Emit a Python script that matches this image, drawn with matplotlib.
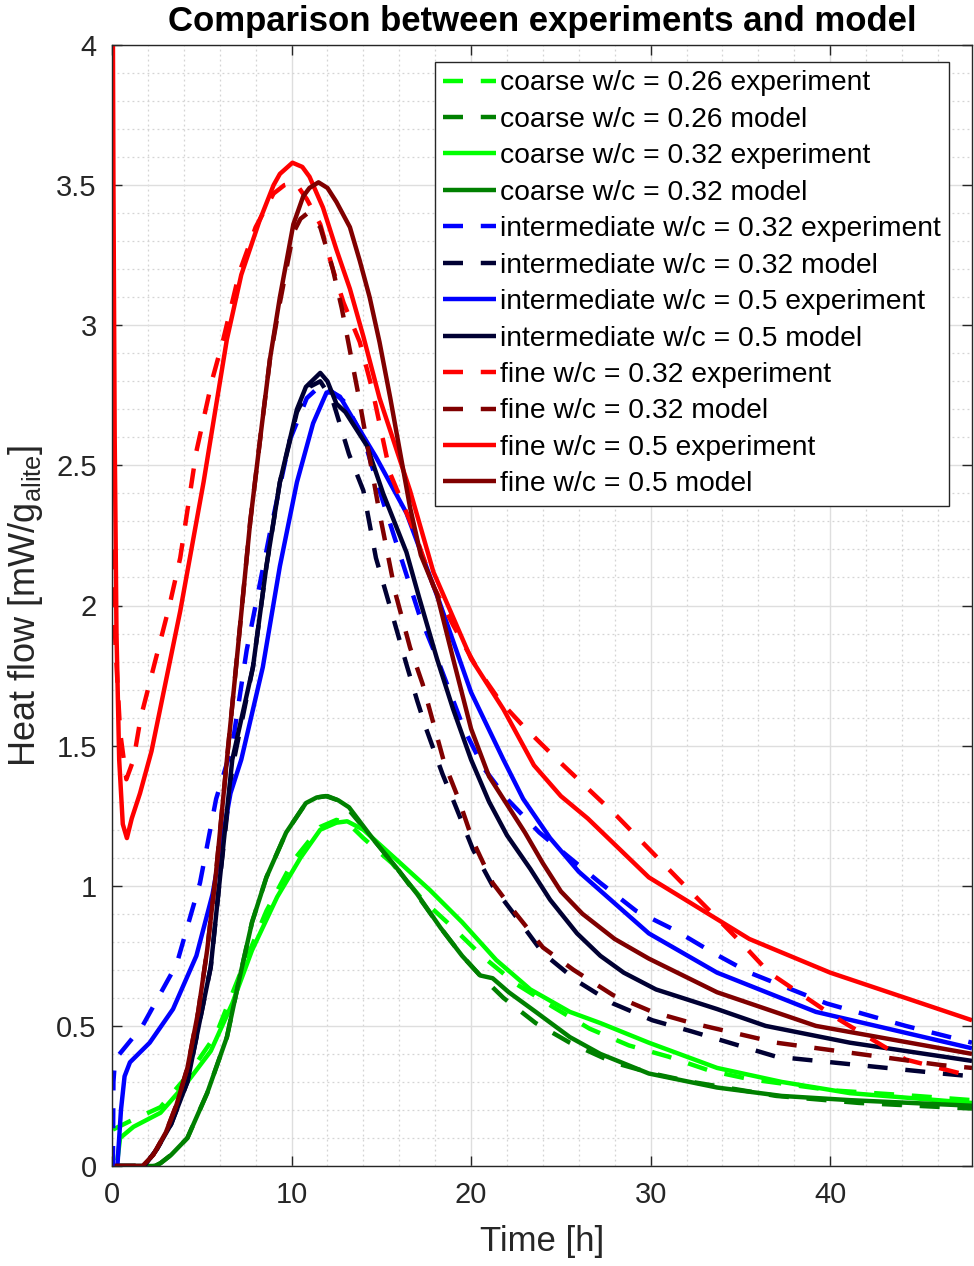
import matplotlib
matplotlib.use("Agg")
import matplotlib.pyplot as plt
from matplotlib.ticker import MultipleLocator

plt.rcParams['font.family'] = ['Liberation Sans', 'DejaVu Sans']
plt.rcParams['mathtext.default'] = 'regular'

# ---- measured heat-flow curves: time [h] and heat flow [mW/g_alite] ----
coarse_026_exp_t = [0.05, 1.0, 2.7, 4.3, 5.8, 7.1, 8.6, 10.1, 11.6, 12.5, 13.2, 14.0, 15.6, 17.3,
                    19.0, 20.6, 22.5, 24.5, 26.6, 28.8, 31.0, 33.3, 35.5, 40.1, 44.8, 47.9]
coarse_026_exp_q = [0.13, 0.16, 0.21, 0.33, 0.47, 0.68, 0.91, 1.09, 1.21, 1.235, 1.22, 1.17, 1.08, 0.95,
                    0.85, 0.75, 0.65, 0.57, 0.49, 0.43, 0.39, 0.34, 0.31, 0.27, 0.25, 0.235]

coarse_026_mod_t = [0.2, 2.4, 2.7, 3.3, 4.2, 5.3, 6.4, 7.1, 7.8, 8.6, 9.7, 10.8, 11.4, 11.9, 12.6,
                    13.2, 14.5, 15.9, 17.3, 18.3, 19.5, 20.5, 21.0, 21.8, 23.6, 25.5, 27.9, 30.1,
                    32.3, 37.0, 41.6, 47.9]
coarse_026_mod_q = [0.0, 0.0, 0.01, 0.04, 0.10, 0.26, 0.46, 0.67, 0.87, 1.03, 1.19, 1.295, 1.315, 1.32,
                    1.305, 1.27, 1.17, 1.06, 0.94, 0.85, 0.75, 0.68, 0.65, 0.60, 0.51, 0.44, 0.37,
                    0.33, 0.30, 0.25, 0.225, 0.205]

coarse_032_exp_t = [0.3, 0.45, 1.2, 2.7, 4.2, 5.5, 6.7, 7.8, 9.2, 10.5, 11.6, 12.5, 13.1, 14.0,
                    15.9, 17.7, 19.5, 21.4, 23.3, 25.5, 27.2, 29.9, 33.7, 37.3, 41.1, 47.9]
coarse_032_exp_q = [0.02, 0.10, 0.14, 0.19, 0.30, 0.41, 0.58, 0.77, 0.96, 1.10, 1.20, 1.225, 1.23, 1.20,
                    1.09, 0.985, 0.87, 0.735, 0.63, 0.55, 0.51, 0.44, 0.35, 0.30, 0.26, 0.225]

coarse_032_mod_t = [0.2, 2.4, 2.7, 3.3, 4.2, 5.3, 6.4, 7.1, 7.8, 8.6, 9.7, 10.8, 11.4, 12.0, 12.6,
                    13.2, 14.5, 15.9, 17.0, 18.3, 19.5, 20.5, 21.2, 22.1, 23.6, 25.5, 27.2, 29.9,
                    33.7, 37.3, 41.1, 47.9]
coarse_032_mod_q = [0.0, 0.0, 0.01, 0.04, 0.10, 0.26, 0.46, 0.67, 0.87, 1.03, 1.19, 1.295, 1.315, 1.32,
                    1.305, 1.28, 1.17, 1.06, 0.97, 0.85, 0.75, 0.68, 0.67, 0.62, 0.55, 0.46, 0.40,
                    0.33, 0.28, 0.25, 0.235, 0.215]

inter_032_exp_t = [0.05, 0.08, 0.17, 1.7, 3.6, 4.9, 5.8, 6.7, 7.5, 8.8, 9.9, 10.85, 11.7, 12.9, 14.0,
                   14.7, 15.8, 17.1, 18.3, 19.6, 20.7, 22.0, 23.8, 25.3, 27.2, 29.2, 31.4, 33.5,
                   35.5, 39.8, 44.2, 47.9]
inter_032_exp_q = [0.0, 0.30, 0.38, 0.50, 0.72, 1.01, 1.31, 1.50, 1.84, 2.26, 2.59, 2.74, 2.79, 2.73,
                   2.60, 2.45, 2.23, 1.97, 1.78, 1.56, 1.42, 1.31, 1.19, 1.11, 1.01, 0.91, 0.84,
                   0.76, 0.69, 0.58, 0.50, 0.44]

inter_032_mod_t = [0.2, 1.8, 2.5, 3.3, 4.2, 5.5, 6.0, 6.7, 7.85, 8.6, 9.35, 10.3, 11.0, 11.6, 12.3,
                   13.2, 14.0, 14.7, 15.6, 16.4, 17.0, 17.5, 18.4, 19.1, 20.1, 21.2, 22.5, 24.0,
                   25.9, 27.9, 30.1, 32.3, 37.0, 41.6, 46.2, 47.9]
inter_032_mod_q = [0.0, 0.0, 0.06, 0.15, 0.30, 0.71, 1.02, 1.42, 1.78, 2.14, 2.44, 2.69, 2.78, 2.80,
                   2.73, 2.54, 2.41, 2.17, 1.97, 1.79, 1.66, 1.56, 1.40, 1.29, 1.13, 1.00, 0.89,
                   0.76, 0.66, 0.58, 0.52, 0.48, 0.39, 0.36, 0.33, 0.32]

inter_05_exp_t = [0.3, 0.5, 0.7, 1.0, 2.1, 3.4, 4.7, 5.6, 6.6, 7.2, 8.4, 9.35, 10.3, 11.2, 11.95,
                  12.3, 12.7, 13.2, 14.7, 16.4, 18.25, 20.0, 21.8, 22.9, 24.4, 26.0, 29.9, 33.7,
                  39.2, 47.9]
inter_05_exp_q = [0.0, 0.20, 0.32, 0.37, 0.44, 0.56, 0.75, 0.97, 1.33, 1.45, 1.78, 2.14, 2.44, 2.65,
                  2.76, 2.76, 2.745, 2.69, 2.53, 2.33, 2.01, 1.69, 1.45, 1.31, 1.17, 1.05, 0.83,
                  0.69, 0.55, 0.42]

inter_05_mod_t = [0.2, 1.8, 2.5, 3.3, 4.2, 5.5, 6.0, 6.7, 7.85, 8.6, 9.35, 10.3, 10.8, 11.6, 12.0,
                  12.5, 13.0, 14.2, 15.1, 16.4, 17.1, 18.1, 19.0, 20.0, 21.0, 22.0, 23.3, 24.4,
                  25.9, 27.2, 28.5, 30.3, 33.7, 36.4, 41.1, 47.9]
inter_05_mod_q = [0.0, 0.0, 0.06, 0.15, 0.30, 0.71, 1.02, 1.45, 1.78, 2.14, 2.44, 2.70, 2.78, 2.83,
                  2.80, 2.72, 2.69, 2.57, 2.40, 2.19, 2.03, 1.81, 1.63, 1.45, 1.30, 1.18, 1.06,
                  0.95, 0.83, 0.75, 0.69, 0.63, 0.56, 0.50, 0.44, 0.375]

fine_032_exp_t = [0.0, 0.2, 0.45, 0.8, 1.2, 1.6, 2.4, 3.2, 3.8, 4.7, 5.6, 6.2, 7.1, 8.0, 9.0, 9.6,
                  10.2, 10.85, 11.6, 12.3, 12.9, 13.8, 14.5, 15.5, 16.8, 17.9, 19.0, 20.3, 21.6,
                  22.9, 24.8, 28.1, 31.6, 33.3, 35.0, 36.6, 40.3, 44.2, 47.9]
fine_032_exp_q = [2.2, 1.85, 1.55, 1.38, 1.45, 1.60, 1.80, 2.0, 2.17, 2.55, 2.81, 2.95, 3.19, 3.35,
                  3.47, 3.50, 3.51, 3.45, 3.36, 3.20, 3.08, 2.94, 2.77, 2.47, 2.27, 2.07, 1.93,
                  1.78, 1.66, 1.57, 1.45, 1.25, 1.02, 0.91, 0.80, 0.69, 0.53, 0.38, 0.32]

fine_032_mod_t = [0.2, 1.7, 2.3, 3.0, 3.6, 4.2, 4.8, 5.3, 5.8, 6.4, 7.0, 7.7, 8.3, 8.8, 9.35, 10.1,
                  10.5, 10.9, 11.6, 12.3, 12.8, 13.25, 13.7, 14.9, 15.8, 16.6, 17.3, 17.9, 18.5,
                  19.3, 20.1, 21.2, 22.5, 24.0, 25.7, 27.9, 30.1, 32.3, 37.0, 41.6, 46.2, 47.9]
fine_032_mod_q = [0.0, 0.0, 0.04, 0.12, 0.22, 0.35, 0.55, 0.77, 1.05, 1.45, 1.84, 2.30, 2.62, 2.88,
                  3.08, 3.33, 3.38, 3.40, 3.35, 3.20, 3.06, 2.91, 2.76, 2.33, 2.04, 1.85, 1.72,
                  1.58, 1.44, 1.31, 1.16, 1.01, 0.90, 0.78, 0.70, 0.61, 0.55, 0.51, 0.44, 0.40,
                  0.36, 0.35]

fine_05_exp_t = [0.02, 0.08, 0.15, 0.25, 0.4, 0.6, 0.83, 1.1, 1.56, 2.2, 3.0, 3.8, 5.1, 6.4, 7.2,
                 8.2, 9.0, 9.35, 10.05, 10.6, 11.0, 11.75, 12.5, 13.25, 14.0, 14.9, 16.6, 17.9,
                 20.0, 21.8, 23.5, 25.0, 26.5, 29.9, 35.5, 40.0, 47.9]
fine_05_exp_q = [4.6, 3.5, 2.6, 1.9, 1.45, 1.22, 1.17, 1.24, 1.33, 1.48, 1.73, 1.98, 2.44, 2.95, 3.18,
                 3.37, 3.50, 3.54, 3.58, 3.565, 3.53, 3.42, 3.27, 3.13, 2.96, 2.74, 2.41, 2.12,
                 1.81, 1.63, 1.43, 1.32, 1.24, 1.03, 0.81, 0.69, 0.52]

fine_05_mod_t = [0.15, 1.7, 2.3, 3.0, 3.6, 4.2, 4.8, 5.3, 5.8, 6.4, 7.0, 7.7, 8.3, 8.8, 9.35, 10.1,
                 10.65, 11.0, 11.5, 12.0, 12.5, 13.25, 13.8, 14.35, 14.9, 15.5, 16.6, 17.2, 18.1,
                 19.0, 20.0, 21.0, 22.0, 23.0, 24.0, 25.0, 26.2, 28.0, 29.9, 33.7, 39.2, 47.9]
fine_05_mod_q = [0.0, 0.0, 0.04, 0.12, 0.22, 0.35, 0.55, 0.77, 1.05, 1.45, 1.84, 2.30, 2.62, 2.88,
                 3.10, 3.36, 3.46, 3.49, 3.51, 3.49, 3.44, 3.35, 3.23, 3.10, 2.94, 2.74, 2.35,
                 2.18, 2.04, 1.81, 1.56, 1.39, 1.29, 1.19, 1.08, 0.98, 0.90, 0.81, 0.74, 0.62,
                 0.50, 0.40]

labels = [
    "coarse w/c = 0.26 experiment",
    "coarse w/c = 0.26 model",
    "coarse w/c = 0.32 experiment",
    "coarse w/c = 0.32 model",
    "intermediate w/c = 0.32 experiment",
    "intermediate w/c = 0.32 model",
    "intermediate w/c = 0.5 experiment",
    "intermediate w/c = 0.5 model",
    "fine w/c = 0.32 experiment",
    "fine w/c = 0.32 model",
    "fine w/c = 0.5 experiment",
    "fine w/c = 0.5 model",
]

series = [
    (coarse_026_exp_t, coarse_026_exp_q),
    (coarse_026_mod_t, coarse_026_mod_q),
    (coarse_032_exp_t, coarse_032_exp_q),
    (coarse_032_mod_t, coarse_032_mod_q),
    (inter_032_exp_t, inter_032_exp_q),
    (inter_032_mod_t, inter_032_mod_q),
    (inter_05_exp_t, inter_05_exp_q),
    (inter_05_mod_t, inter_05_mod_q),
    (fine_032_exp_t, fine_032_exp_q),
    (fine_032_mod_t, fine_032_mod_q),
    (fine_05_exp_t, fine_05_exp_q),
    (fine_05_mod_t, fine_05_mod_q),
]

colors = ['#00FF00', '#008000', '#00FF00', '#008000',
          '#0000FF', '#000033', '#0000FF', '#000033',
          '#FF0000', '#800000', '#FF0000', '#800000']
dashed = (0, (4.5, 4.0))
styles = [dashed, dashed, '-', '-'] * 3

fig = plt.figure(figsize=(9.74, 12.66), dpi=100)
ax = fig.add_axes([112 / 974, 100 / 1266, 860 / 974, 1121 / 1266])

for (t, q), c, ls, lab in zip(series, colors, styles, labels):
    ax.plot(t, q, color=c, linestyle=ls, linewidth=3.2, label=lab,
            solid_capstyle='butt', dash_capstyle='butt', solid_joinstyle='round')

ax.set_xlim(0, 47.9)
ax.set_ylim(0, 4)
ax.set_xticks([0, 10, 20, 30, 40])
ax.set_yticks([0, 0.5, 1, 1.5, 2, 2.5, 3, 3.5, 4])
ax.set_yticklabels(['0', '0.5', '1', '1.5', '2', '2.5', '3', '3.5', '4'])
ax.xaxis.set_minor_locator(MultipleLocator(2))
ax.yaxis.set_minor_locator(MultipleLocator(0.1))

ax.grid(True, which='major', color='#dedede', linewidth=1.0, linestyle='-')
ax.grid(True, which='minor', color='#d4d4d4', linewidth=0.9, linestyle=(0, (1.5, 2.5)))
ax.set_axisbelow(True)

ax.tick_params(which='major', direction='in', length=7, width=1.0, color='#262626',
               top=True, right=True, labelsize=21, labelcolor='#262626', pad=11)
ax.tick_params(which='minor', length=0, top=True, right=True)
for s in ax.spines.values():
    s.set_color('#262626')
    s.set_linewidth(1.0)

ax.set_xlabel('Time [h]', fontsize=25, color='#262626', labelpad=11)
ax.set_ylabel(r'Heat flow [mW/g$_{alite}$]', fontsize=26, color='#262626', labelpad=8)
ax.set_title('Comparison between experiments and model', fontsize=25,
             fontweight='bold', pad=10)

leg = ax.legend(loc='upper right', bbox_to_anchor=(0.9733, 0.9848), fontsize=20.3,
                frameon=True, fancybox=False, edgecolor='#262626', framealpha=1.0,
                borderpad=0.3, labelspacing=0.37, handlelength=1.85, handletextpad=0.15,
                borderaxespad=0.0)
leg.get_frame().set_linewidth(1.0)

fig.savefig('out.png', dpi=100)
